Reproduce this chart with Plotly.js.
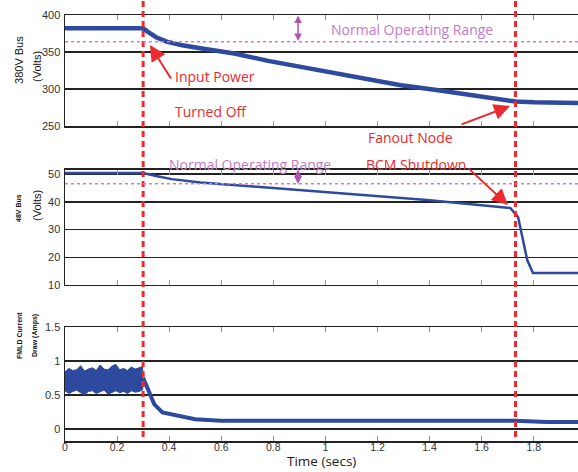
<!DOCTYPE html>
<html>
<head>
<meta charset="utf-8">
<script src="https://cdn.plot.ly/plotly-3.0.1.min.js"></script>
<style>html,body{margin:0;padding:0;background:#fff;}#chart{width:578px;height:472px;}</style>
</head>
<body>
<div id="chart"></div>
<script>
// ---- data ----
const t380 = [0, 0.1, 0.2, 0.30, 0.32, 0.35, 0.39, 0.45, 0.52, 0.65, 0.78, 0.9, 1.03, 1.16, 1.29, 1.42, 1.55, 1.65, 1.73, 1.8, 1.9, 1.97];
const v380 = [382, 382, 382, 382, 377, 370, 364, 359, 355, 348, 338, 330, 322, 313, 305, 299, 292, 287, 283, 282, 281, 281];

const t48 = [0, 0.15, 0.30, 0.35, 0.41, 0.52, 0.9, 1.2, 1.39, 1.55, 1.71, 1.74, 1.775, 1.797, 1.97];
const v48 = [50.4, 50.4, 50.4, 49.3, 48.2, 47.0, 44.3, 42.2, 40.7, 39.2, 37.8, 34.5, 19, 14.3, 14.3];

const tBand = [0, 0.015, 0.03, 0.045, 0.06, 0.075, 0.09, 0.105, 0.12, 0.135, 0.15, 0.165, 0.18, 0.195, 0.21, 0.225, 0.24, 0.255, 0.27, 0.285, 0.30];
const bandUpper = [0.84, 0.89, 0.86, 0.87, 0.93, 0.85, 0.88, 0.90, 0.86, 0.94, 0.88, 0.87, 0.92, 0.95, 0.87, 0.89, 0.86, 0.91, 0.88, 0.90, 0.92];
const bandLower = [0.56, 0.52, 0.55, 0.57, 0.53, 0.50, 0.55, 0.56, 0.52, 0.55, 0.57, 0.51, 0.54, 0.56, 0.53, 0.55, 0.52, 0.56, 0.54, 0.55, 0.58];
const tCur = [0.30, 0.315, 0.326, 0.343, 0.374, 0.44, 0.50, 0.60, 1.0, 1.4, 1.73, 1.85, 1.97];
const vCur = [0.75, 0.62, 0.53, 0.36, 0.24, 0.18, 0.14, 0.12, 0.12, 0.12, 0.12, 0.10, 0.10];

const eventTimes = [0.30, 1.73];           // red dashed markers
const normalLimit380 = 364;                // lower limit of normal range, 380V bus
const normalLimit48 = 46.5;                // lower limit of normal range, 48V bus
const xTickVals = [0, 0.2, 0.4, 0.6, 0.8, 1, 1.2, 1.4, 1.6, 1.8];
const xTickText = ['0', '0.2', '0.4', '0.6', '0.8', '1', '1.2', '1.4', '1.6', '1.8'];

// ---- styling ----
const BLUE = '#2d4a9e', RED = '#ea2a2e', PURPLE = '#c47ac6', PURPLE_LINE = '#d27ad2';
const TXT = 'Open Sans, Liberation Sans, sans-serif';

const traces = [
  {x: t380, y: v380, xaxis: 'x', yaxis: 'y', mode: 'lines', line: {color: BLUE, width: 4.5}, name: '380V Bus'},
  {x: t48, y: v48, xaxis: 'x2', yaxis: 'y2', mode: 'lines', line: {color: BLUE, width: 2.5}, name: '48V Bus'},
  {x: tBand, y: bandLower, xaxis: 'x3', yaxis: 'y3', mode: 'lines', line: {color: BLUE, width: 1}, name: 'band low', showlegend: false},
  {x: tBand, y: bandUpper, xaxis: 'x3', yaxis: 'y3', mode: 'lines', fill: 'tonexty', fillcolor: BLUE, line: {color: BLUE, width: 1}, name: 'band high', showlegend: false},
  {x: tCur, y: vCur, xaxis: 'x3', yaxis: 'y3', mode: 'lines', line: {color: BLUE, width: 4}, name: 'FMLD Current'}
];

function xax(anchor, showLabels) {
  return {
    anchor: anchor, matches: anchor === 'y' ? undefined : 'x',
    range: [0, 1.97], domain: [0, 1],
    tickvals: xTickVals, ticktext: xTickText, showticklabels: showLabels,
    ticks: 'inside', ticklen: 5, tickwidth: 1, tickcolor: '#999',
    showline: true, linecolor: '#222', linewidth: 1.5, mirror: 'ticks',
    showgrid: false, zeroline: false, automargin: false,
    tickfont: {family: 'Liberation Sans, Arial, sans-serif', size: 10.5, color: '#333'},
    ticklabelstandoff: -4
  };
}
function yax(range, domain, vals, txt) {
  return {
    range: range, domain: domain, tickvals: vals, ticktext: txt,
    ticks: '', showline: true, linecolor: '#222', linewidth: 1.5,
    showgrid: true, gridcolor: '#222', gridwidth: 1.5, zeroline: false,
    tickfont: {family: 'Liberation Sans, Arial, sans-serif', size: 11, color: '#333'},
    ticklabelstandoff: 1
  };
}

const layout = {
  width: 578, height: 472,
  margin: {l: 65, r: 0, t: 15, b: 31},
  paper_bgcolor: '#fff', plot_bgcolor: '#fff',
  showlegend: false,
  xaxis: xax('y', false),
  xaxis2: xax('y2', false),
  xaxis3: xax('y3', true),
  yaxis: yax([250, 400], [0.7394, 1], [250, 300, 350, 400], ['250', '300', '350', '400']),
  yaxis2: yax([10, 51.5], [0.3662, 0.6362], [10, 20, 30, 40, 50], ['10', '20', '30', '40', '50']),
  yaxis3: yax([-0.18, 1.5], [0, 0.2676], [0, 0.5, 1, 1.5], ['0', '0.5', '1', '1.5']),
  shapes: [],
  annotations: []
};

eventTimes.forEach(t => layout.shapes.push({
  type: 'line', xref: 'x', yref: 'paper', x0: t, x1: t, y0: 0.0094, y1: 1.035,
  line: {color: RED, width: 3, dash: '6px,4px'}, layer: 'above'
}));
layout.shapes.push({type: 'line', xref: 'x domain', yref: 'y', x0: 0, x1: 1, y0: normalLimit380, y1: normalLimit380,
  line: {color: PURPLE_LINE, width: 1.5, dash: 'dot'}});
layout.shapes.push({type: 'line', xref: 'x2 domain', yref: 'y2', x0: 0, x1: 1, y0: normalLimit48, y1: normalLimit48,
  line: {color: PURPLE_LINE, width: 1.5, dash: 'dot'}});

const A = layout.annotations;
// x-axis title
A.push({text: 'Time (secs)', x: 0.5, y: -0.0704, xref: 'paper', yref: 'paper', showarrow: false, borderpad: 0,
  xanchor: 'center', yanchor: 'bottom', font: {family: TXT, size: 13.5, color: '#222'}});

function txt(text, x, y, color, xanchor, size) {
  A.push({text: text, x: x, y: y, xref: 'x', yref: 'paper', showarrow: false, xanchor: xanchor, yanchor: 'middle',
    font: {family: TXT, size: size || 14, color: color}});
}
txt('Input Power', 0.415, 0.8545, RED, 'left');
txt('Turned Off', 0.415, 0.7746, RED, 'left');
txt('Fanout Node', 1.325, 0.7113, RED, 'center');
txt('BCM Shutdown', 1.348, 0.6479, RED, 'center');
txt('Normal Operating Range', 1.333, 0.9671, PURPLE, 'center');
txt('Normal Operating Range', 0.71, 0.6502, PURPLE, 'center');

function arrow(x, y, ax, ay, color, both, size, w) {
  A.push({text: '', x: x, y: y, xref: 'x', yref: 'paper', ax: ax, ay: ay, showarrow: true,
    arrowhead: 2, arrowsize: size, arrowwidth: w, arrowcolor: color, arrowside: both ? 'end+start' : 'end',
    startarrowhead: 2, startarrowsize: size});
}
arrow(0.326, 0.9296, 22, 35, RED, false, 1.6, 2);
arrow(1.709, 0.7864, -50, 19, RED, false, 1.6, 2);
arrow(1.701, 0.554, -41, -38, RED, false, 1.6, 2);
arrow(0.895, 0.939, 0, -27, '#b050b0', true, 1, 1.5);
arrow(0.895, 0.6033, 0, -16, '#b050b0', true, 1, 1.5);

function ytitle(text, x, y, size, bold) {
  A.push({text: bold ? '<b>' + text + '</b>' : text, x: x, y: y, xref: 'paper', yref: 'paper', showarrow: false,
    textangle: -90, xanchor: 'center', yanchor: 'middle',
    font: {family: 'Liberation Sans, Arial, sans-serif', size: size, color: '#111'}});
}
ytitle('380V Bus', -0.0897, 0.8944, 11, false);
ytitle('(Volts)', -0.0546, 0.8803, 11, false);
ytitle('48V Bus', -0.0897, 0.547, 7, true);
ytitle('(Volts)', -0.0546, 0.554, 11, false);
ytitle('FMLD Current', -0.0897, 0.2488, 7, true);
ytitle('Draw (Amps)', -0.0585, 0.2488, 7, true);

Plotly.newPlot('chart', traces, layout, {displayModeBar: false, staticPlot: true});
</script>
</body>
</html>
